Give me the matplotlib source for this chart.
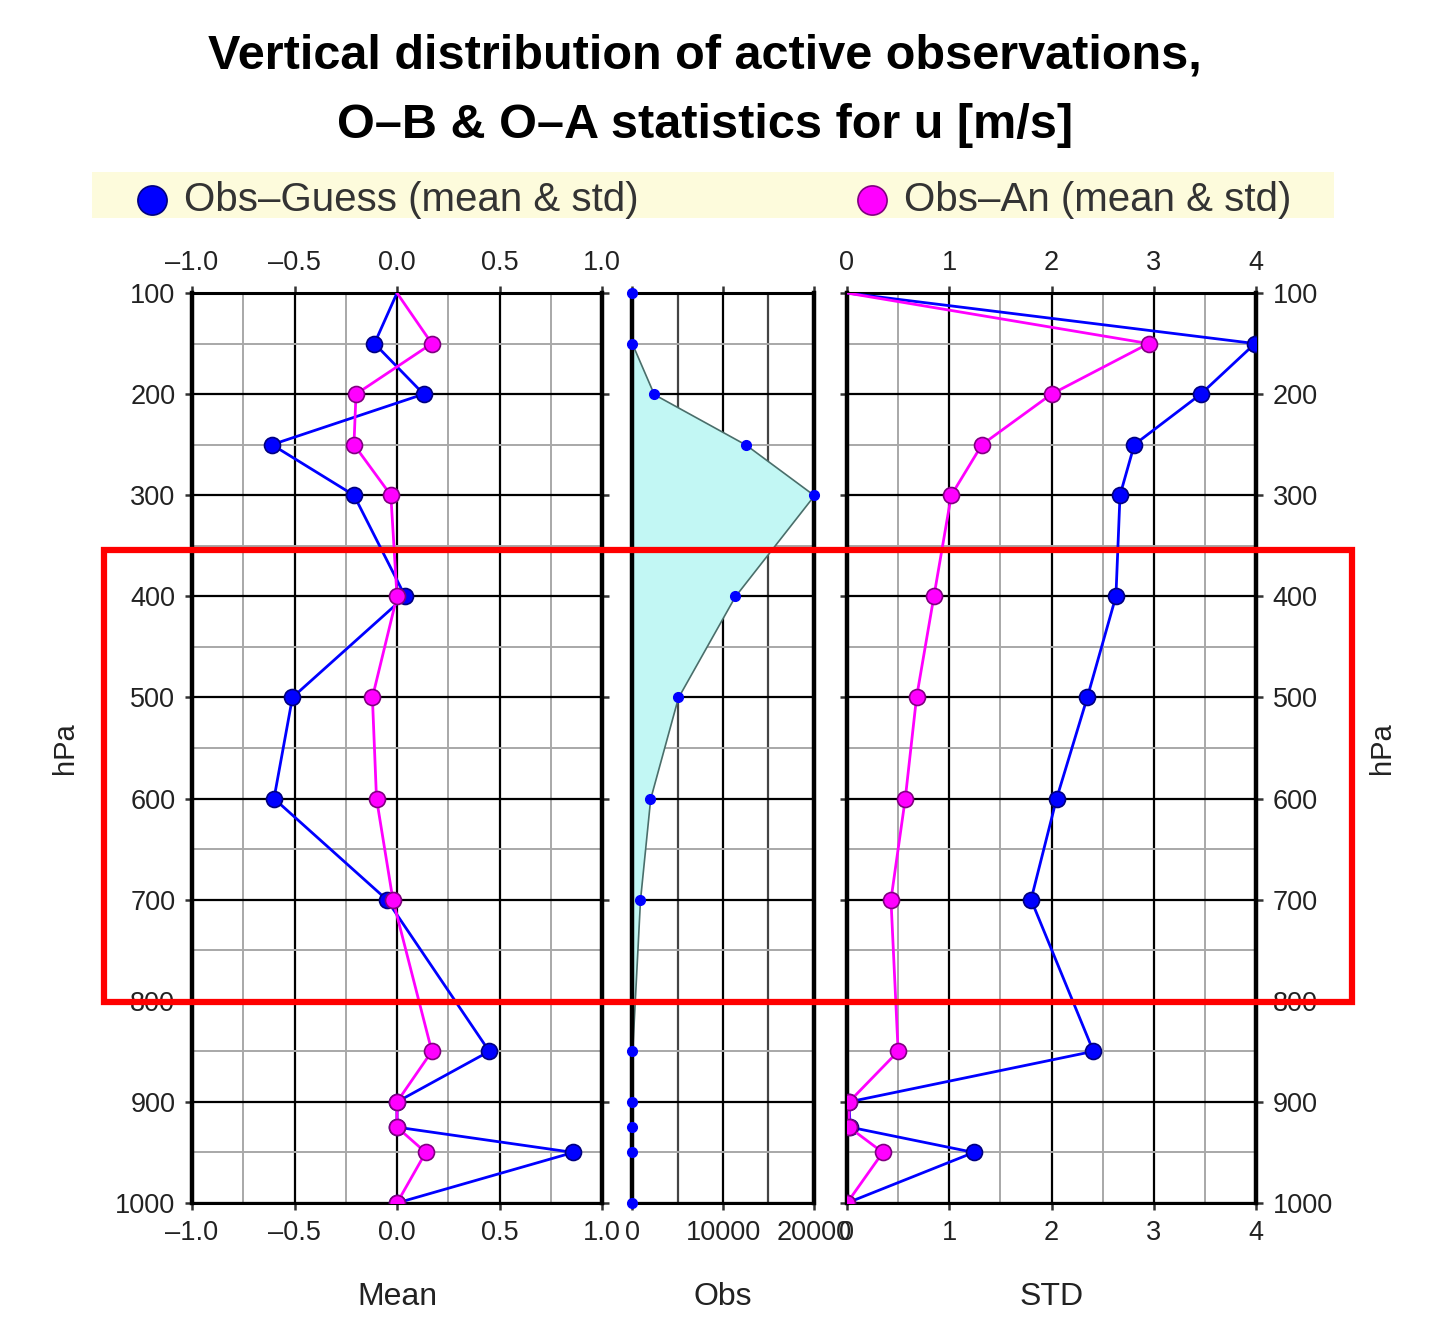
import numpy as np
import matplotlib
matplotlib.use("Agg")
import matplotlib.pyplot as plt
from matplotlib.lines import Line2D
from matplotlib.patches import Rectangle
from matplotlib.ticker import FuncFormatter

# pressure levels [hPa]
levels = [100, 150, 200, 250, 300, 400, 500, 600, 700, 850, 900, 925, 950, 1000]

# O-B and O-A mean
mean_guess = [0.0, -0.11, 0.13, -0.61, -0.21, 0.04, -0.51, -0.60, -0.05, 0.45, 0.0, 0.0, 0.86, 0.0]
mean_an = [0.0, 0.17, -0.20, -0.21, -0.03, 0.0, -0.12, -0.10, -0.02, 0.17, 0.0, 0.0, 0.14, 0.0]

# number of active observations
nobs = [0, 0, 2400, 12500, 20000, 11300, 5050, 2000, 880, 20, 0, 0, 0, 0]

# O-B and O-A std
std_guess = [0.0, 3.99, 3.46, 2.81, 2.67, 2.63, 2.35, 2.05, 1.80, 2.41, 0.02, 0.03, 1.24, 0.0]
std_an = [0.0, 2.95, 2.0, 1.32, 1.02, 0.85, 0.68, 0.57, 0.43, 0.50, 0.02, 0.02, 0.35, 0.0]

W, H = 1452, 1322
FONT = ["Liberation Sans", "DejaVu Sans"]
NARROW = ["Liberation Sans Narrow", "Liberation Sans", "DejaVu Sans"]
TXT = "#222222"

plt.rcParams["font.family"] = FONT


def box(x0, y0, x1, y1):
    return [x0 / W, 1 - y1 / H, (x1 - x0) / W, (y1 - y0) / H]


def style_axes(ax, xmaj, xmin, xlim, gridcol_x="black"):
    ax.set_ylim(1000, 100)
    ax.set_xlim(*xlim)
    ax.set_yticks(np.arange(100, 1001, 100))
    ax.set_yticks(np.arange(150, 1000, 100), minor=True)
    ax.set_xticks(xmaj)
    if xmin is not None:
        ax.set_xticks(xmin, minor=True)
    ax.grid(which="major", axis="y", color="black", lw=1.6, zorder=1)
    ax.grid(which="minor", axis="y", color="#a8a8a8", lw=1.4, zorder=1)
    ax.grid(which="major", axis="x", color=gridcol_x, lw=1.6, zorder=1)
    ax.grid(which="minor", axis="x", color="#a8a8a8", lw=1.4, zorder=1)
    ax.set_axisbelow(True)
    for s in ["left", "right"]:
        ax.spines[s].set_linewidth(3.2)
    for s in ["top", "bottom"]:
        ax.spines[s].set_linewidth(2.2)
    ax.tick_params(which="major", direction="out", length=5, width=1.8,
                   labelsize=19.5, labelcolor=TXT, color="#333333", pad=7)
    ax.tick_params(which="minor", length=0)


fig = plt.figure(figsize=(W / 100, H / 100), dpi=100)

# Mean panel
ax1 = fig.add_axes(box(192, 293, 602, 1203))
style_axes(ax1, np.arange(-1, 1.01, 0.5), np.arange(-0.75, 0.8, 0.5), (-1, 1))
ax1.plot(mean_guess, levels, color="blue", lw=2, marker="o", ms=11.5,
         mec="#000080", mew=1.2, markevery=list(range(1, len(levels))), zorder=3)
ax1.plot(mean_an, levels, color="magenta", lw=2, marker="o", ms=11.5,
         mec="#800080", mew=1.2, markevery=list(range(1, len(levels))), zorder=4)
ax1.xaxis.set_major_formatter(
    FuncFormatter(lambda v, p: f"{v:.1f}".replace("-", "\u2013") if abs(v) > 1e-9 else "0.0"))
ax1.tick_params(axis="x", top=True, labeltop=True)
ax1.tick_params(axis="y", right=True, labelright=False)
ax1.set_xlabel("Mean", fontsize=23, color=TXT, labelpad=26)

# Obs panel
ax2 = fig.add_axes(box(632, 293, 814, 1203))
style_axes(ax2, [0, 10000, 20000], [5000, 15000], (0, 20000))
ax2.grid(which="minor", axis="x", color="#444444", lw=1.6, zorder=1)
ax2.fill_betweenx(levels, 0, nobs, facecolor="#c2f7f4", edgecolor="#4a6e6a",
                  lw=1.2, zorder=2)
ax2.plot(nobs, levels, ls="none", marker="o", ms=7, color="blue", zorder=3,
         clip_on=False)
ax2.tick_params(axis="x", top=True, labeltop=False)
ax2.tick_params(axis="y", left=False, labelleft=False)
ax2.set_xlabel("Obs", fontsize=23, color=TXT, labelpad=26)

# STD panel
ax3 = fig.add_axes(box(847, 293, 1256, 1203))
style_axes(ax3, np.arange(0, 4.1, 1), np.arange(0.5, 4, 1), (0, 4))
ax3.plot(std_guess, levels, color="blue", lw=2, marker="o", ms=11.5,
         mec="#000080", mew=1.2, markevery=list(range(1, len(levels))), zorder=3)
ax3.plot(std_an, levels, color="magenta", lw=2, marker="o", ms=11.5,
         mec="#800080", mew=1.2, markevery=list(range(1, len(levels))), zorder=4)
ax3.tick_params(axis="x", top=True, labeltop=True)
ax3.tick_params(axis="y", left=True, right=True, labelleft=False, labelright=True)
ax3.set_xlabel("STD", fontsize=23, color=TXT, labelpad=26)

fig.text(65 / W, 1 - 748 / H, "hPa", rotation=90, fontsize=21, color=TXT,
         ha="center", va="center")
fig.text(1382 / W, 1 - 748 / H, "hPa", rotation=90, fontsize=21, color=TXT,
         ha="center", va="center")

# title
fig.text(705 / W, 1 - 56 / H, "Vertical distribution of active observations,",
         fontsize=35, fontweight="bold", family=NARROW, ha="center", va="center")
fig.text(705 / W, 1 - 125 / H, "O\u2013B & O\u2013A statistics for u [m/s]",
         fontsize=35, fontweight="bold", family=NARROW, ha="center", va="center")

# legend band
fig.patches.append(Rectangle((92 / W, 1 - 218 / H), (1334 - 92) / W, 46 / H,
                             transform=fig.transFigure, facecolor="#fdfbdc",
                             edgecolor="none", zorder=0))
fig.add_artist(Line2D([152 / W], [1 - 200 / H], transform=fig.transFigure,
                      marker="o", ms=21, color="blue", mec="#000080", mew=1.2))
fig.add_artist(Line2D([872 / W], [1 - 200 / H], transform=fig.transFigure,
                      marker="o", ms=21, color="magenta", mec="#800080", mew=1.2))
fig.text(184 / W, 1 - 200 / H, "Obs\u2013Guess (mean & std)", fontsize=29,
         family=NARROW, color="#333333", ha="left", va="center")
fig.text(904 / W, 1 - 200 / H, "Obs\u2013An (mean & std)", fontsize=29,
         family=NARROW, color="#333333", ha="left", va="center")

# highlight box
fig.patches.append(Rectangle((104 / W, 1 - 1002 / H), (1352 - 104) / W, 452 / H,
                             transform=fig.transFigure, facecolor="none",
                             edgecolor="red", lw=4.5, zorder=10))

fig.savefig("out.png", dpi=100)
